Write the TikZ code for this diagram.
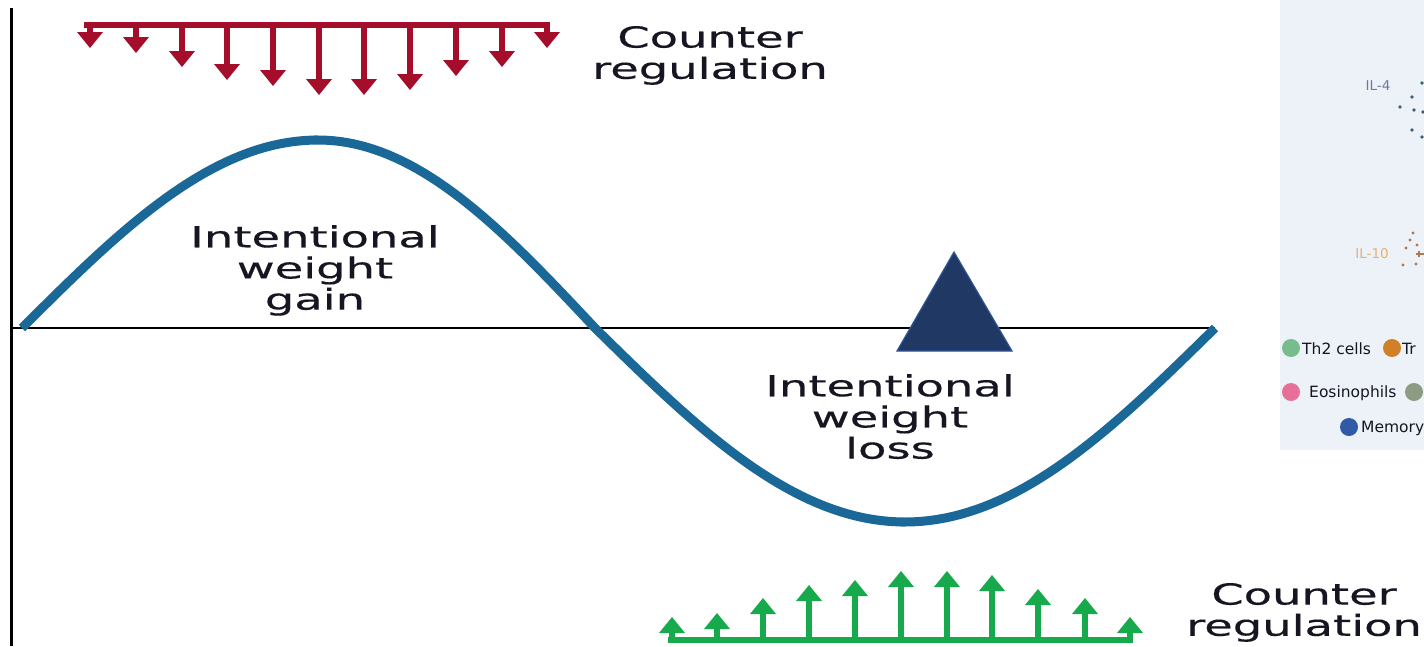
\documentclass[tikz,border=0pt]{standalone}
\usepackage{fontspec}
\setmainfont{DejaVu Sans}
\newfontfamily\capfont[FakeBold=0.35]{DejaVu Sans}

\definecolor{wave}{RGB}{26,104,152}
\definecolor{ink}{RGB}{22,22,34}
\definecolor{downred}{RGB}{165,14,42}
\definecolor{upgreen}{RGB}{22,170,76}
\definecolor{trifill}{RGB}{31,56,100}
\definecolor{triedge}{RGB}{47,85,151}
\definecolor{panelbg}{RGB}{237,242,249}
\definecolor{ilblue}{RGB}{105,125,155}
\definecolor{ilorange}{RGB}{228,178,112}
\definecolor{dotteal}{RGB}{60,95,115}
\definecolor{dotbrown}{RGB}{175,120,80}
\definecolor{legGreen}{RGB}{118,188,140}
\definecolor{legOrange}{RGB}{210,128,40}
\definecolor{legPink}{RGB}{232,112,152}
\definecolor{legGray}{RGB}{140,155,130}
\definecolor{legBlue}{RGB}{50,88,168}

% wide, letter-spaced looking captions
\newcommand{\widecaption}[1]{\scalebox{1.6}[1]{\begin{tabular}{@{}c@{}}#1\end{tabular}}}

\tikzset{
  axisline/.style={draw=black},
  waveline/.style={draw=wave, line width=9pt},
  bigtext/.style={font=\capfont\fontsize{29}{30.5}\selectfont, text=ink, inner sep=0pt},
  legtext/.style={font=\fontsize{15.5}{17}\selectfont, text=ink, inner sep=0pt, anchor=west},
  iltext/.style={font=\fontsize{13.5}{15}\selectfont, inner sep=0pt},
  tri/.style={fill=trifill, draw=triedge, line width=1.2pt},
  shaft/.style={line width=6pt},
}

\begin{document}
\begin{tikzpicture}[x=1pt, y=-1pt]
\useasboundingbox (0,0) rectangle (1424,646);
\fill[white] (0,0) rectangle (1424,646);

% axes
\coordinate (axisTop) at (11,8);
\coordinate (axisBottom) at (11,646);
\coordinate (axisOrigin) at (11,328);
\coordinate (axisEnd) at (1215,328);
\draw[axisline, line width=3pt] (axisTop) -- (axisBottom);
\draw[axisline, line width=2pt] (axisOrigin) -- (axisEnd);

% weight curve: gain hump then loss trough
\draw[waveline]
  plot[domain=22:318, samples=40] (\x, {328-188*sin((\x-22)/296*90)})
  -- plot[domain=318:595, samples=40] (\x, {328-188*cos((\x-318)/277*90)})
  -- plot[domain=595:905, samples=40] (\x, {328+194*sin((\x-595)/310*90)})
  -- plot[domain=905:1215, samples=40] (\x, {328+194*cos((\x-905)/310*90)});

% marker triangle
\draw[tri] (954,252) -- (897,351) -- (1012,351) -- cycle;

% captions
\node[bigtext] (gainText) at (315,272) {\widecaption{Intentional\\weight\\gain}};
\node[bigtext] (lossText) at (890,421) {\widecaption{Intentional\\weight\\loss}};
\node[bigtext] (topCounter) at (710,57) {\widecaption{Counter\\regulation}};
\node[bigtext] (bottomCounter) at (1304,614) {\widecaption{Counter\\regulation}};

% downward counter-regulation arrows
\draw[downred, shaft] (84,25) -- (550,25);
\foreach \px/\tip in {90/48,136/53,182/67,227/80,273/86,319/95,364/95,410/90,456/76,502/67,547/48} {
  \draw[downred, shaft] (\px,23) -- (\px,\tip-14);
  \fill[downred] (\px-13,\tip-16) -- (\px+13,\tip-16) -- (\px,\tip) -- cycle;
}

% upward counter-regulation arrows
\draw[upgreen, shaft] (668,640) -- (1133,640);
\foreach \px/\tip in {672/617,717/613,763/598,809/585,855/580,901/571,947/571,992/575,1038/589,1085/598,1130/617} {
  \draw[upgreen, shaft] (\px,642) -- (\px,\tip+14);
  \fill[upgreen] (\px-13,\tip+16) -- (\px+13,\tip+16) -- (\px,\tip) -- cycle;
}

% side panel
\begin{scope}
  \clip (1280,0) rectangle (1424,450);
  \fill[panelbg] (1280,0) rectangle (1424,450);
  \node[iltext, text=ilblue] (ilFour) at (1378,86) {IL-4};
  \foreach \dx/\dy in {1422/83,1412/97,1400/107,1414/110,1423/112,1412/130,1422/137}
    \fill[dotteal] (\dx,\dy) circle (1.8pt);
  \node[iltext, text=ilorange] (ilTen) at (1372,254) {IL-10};
  \foreach \dx/\dy in {1413/233,1406/248,1417/245,1403/265,1416/264,1410/240}
    \fill[dotbrown] (\dx,\dy) circle (1.7pt);
  \draw[dotbrown, line width=1.2pt] (1416,254) -- (1424,254);
  \draw[dotbrown, line width=1.2pt] (1419,251) -- (1419,257);
  % legend
  \fill[legGreen] (1291,348) circle (9pt);
  \node[legtext] (legTh2) at (1302,349) {Th2 cells};
  \fill[legOrange] (1392,348) circle (9pt);
  \node[legtext] (legTreg) at (1402,349) {Tr};
  \fill[legPink] (1291,392) circle (9pt);
  \node[legtext] (legEos) at (1309,393) {Eosinophils};
  \fill[legGray] (1414,392) circle (9pt);
  \fill[legBlue] (1349,427) circle (9pt);
  \node[legtext] (legMem) at (1361,428) {Memory};
\end{scope}
\end{tikzpicture}
\end{document}
